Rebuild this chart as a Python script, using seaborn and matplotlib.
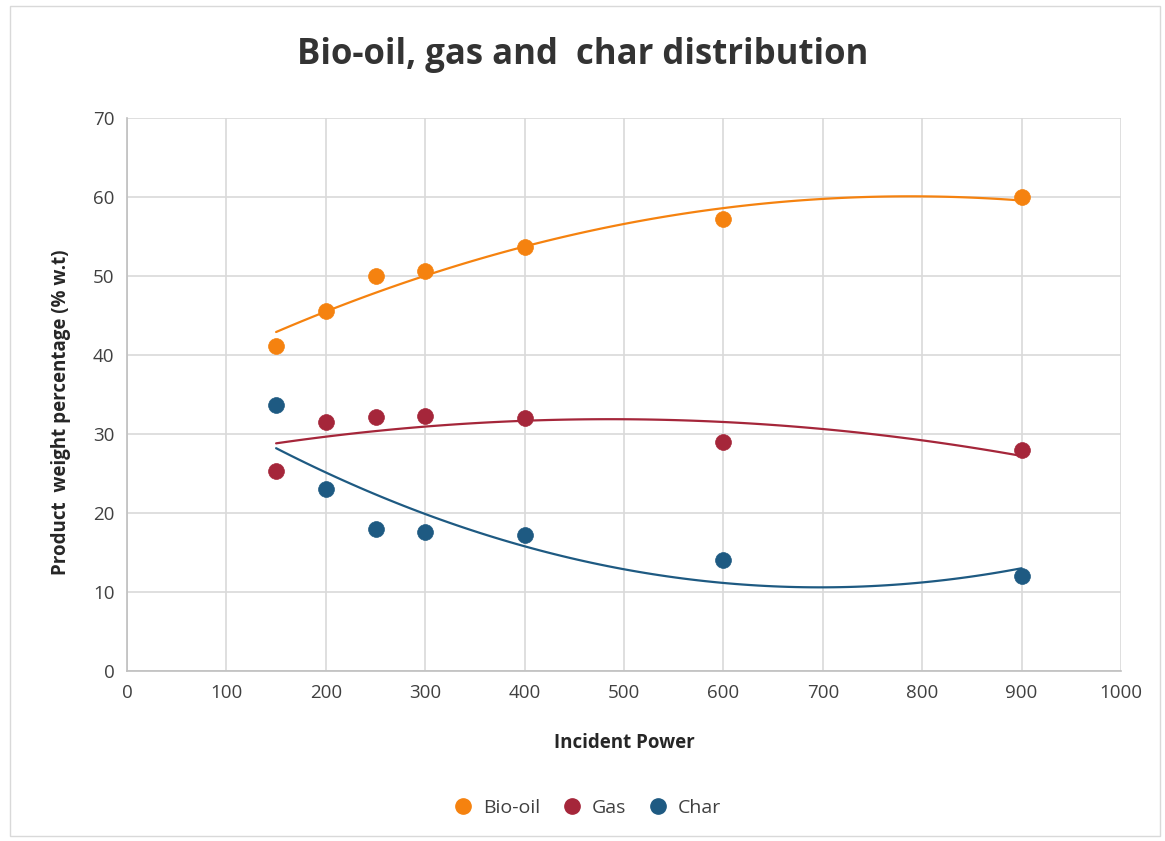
import pandas as pd
import matplotlib.pyplot as plt
import seaborn as sns
from matplotlib.patches import Rectangle
from matplotlib.lines import Line2D

# Data
power = [150, 200, 250, 300, 400, 600, 900]
bio_oil = [41.1, 45.6, 50.0, 50.6, 53.7, 57.2, 60.0]
gas = [25.3, 31.5, 32.1, 32.3, 32.0, 29.0, 28.0]
char = [33.7, 23.0, 18.0, 17.6, 17.2, 14.0, 12.0]

series = ['Bio-oil', 'Gas', 'Char']
colors = {'Bio-oil': '#F5820F', 'Gas': '#A5263A', 'Char': '#1E5A82'}

df = pd.DataFrame({'power': power * 3,
                   'value': bio_oil + gas + char,
                   'product': [s for s in series for _ in power]})

sns.set_style('white')
plt.rcParams['font.family'] = ['Open Sans', 'DejaVu Sans']

fig = plt.figure(figsize=(11.65, 8.41), dpi=100)
ax = fig.add_axes([127 / 1165, 170 / 841, 994 / 1165, 553 / 841])

# light border around the whole chart area
fig.patches.append(Rectangle((10 / 1165, 5 / 841), 1150 / 1165, 830 / 841,
                             transform=fig.transFigure, fill=False,
                             edgecolor='#D9D9D9', linewidth=1))

for name in series:
    sub = df[df['product'] == name]
    sns.regplot(data=sub, x='power', y='value', order=2, ci=None, truncate=True,
                scatter=False, ax=ax, line_kws={'color': colors[name], 'linewidth': 1.6})
    sns.scatterplot(data=sub, x='power', y='value', ax=ax, color=colors[name],
                    s=130, edgecolor=colors[name], linewidth=0.5, zorder=5)

ax.set_xlim(0, 1000)
ax.set_ylim(0, 70)
ax.set_xticks(range(0, 1001, 100))
ax.set_yticks(range(0, 71, 10))
ax.grid(True, color='#D9D9D9', linewidth=1.2)
ax.set_axisbelow(True)
for side in ['top', 'right']:
    ax.spines[side].set_visible(False)
for side in ['left', 'bottom']:
    ax.spines[side].set_color('#BFBFBF')
    ax.spines[side].set_linewidth(1.2)
ax.tick_params(axis='both', labelsize=13.5, labelcolor='#404040', length=0, pad=9)

ax.set_xlabel('Incident Power', fontsize=13.5, fontweight='bold', color='#262626')
ax.xaxis.set_label_coords(0.5, -0.112)
ax.set_ylabel('Product  weight percentage (% w.t)', fontsize=13.5, fontweight='bold',
              color='#262626')
ax.yaxis.set_label_coords(-0.056, 0.467)
fig.text(0.5, 0.935, 'Bio-oil, gas and  char distribution', fontsize=25, fontweight='bold',
         color='#333333', ha='center', va='center')

handles = [Line2D([], [], marker='o', linestyle='', markersize=11,
                  markerfacecolor=colors[s], markeredgecolor=colors[s]) for s in series]
fig.legend(handles, series, loc='center', bbox_to_anchor=(0.5, 0.039), ncol=3,
           frameon=False, fontsize=14, handletextpad=0.05, columnspacing=0.6,
           labelcolor='#404040')

plt.savefig('out.png', dpi=100)
